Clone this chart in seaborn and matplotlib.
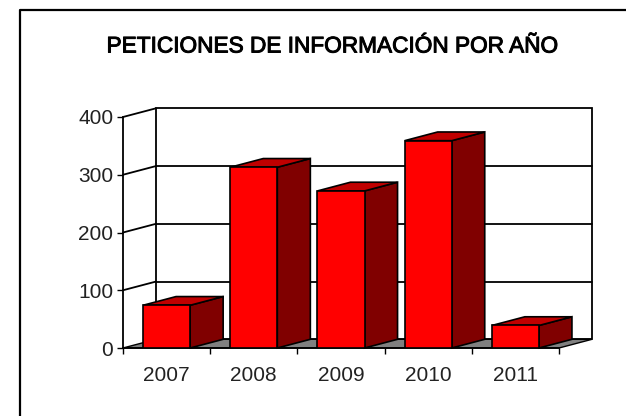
import matplotlib
matplotlib.use('Agg')
import matplotlib.pyplot as plt
import matplotlib.patheffects as pe
import seaborn as sns
import pandas as pd
from matplotlib.patches import Polygon, Rectangle

years = ['2007', '2008', '2009', '2010', '2011']
peticiones = [74, 313, 272, 359, 39]
y_ticks = [0, 100, 200, 300, 400]

W, H = 626, 416
# front plane of the fake 3d box, in pixels
left, right, bottom, top = 123, 559, 348, 117
# depth of the box in data units
dx = 33 / ((right - left) / 5)
dy = 8.7 / ((bottom - top) / 400)

sns.set_theme(style='white')
plt.rcParams['font.family'] = ['Liberation Sans', 'DejaVu Sans']

fig = plt.figure(figsize=(W / 100, H / 100), dpi=100, facecolor='white')
ax = fig.add_axes([left / W, 1 - bottom / H, (right - left) / W, (bottom - top) / H])

df = pd.DataFrame({'year': years, 'n': peticiones})
sns.barplot(data=df, x='year', y='n', color='#ff0000', saturation=1, width=0.54,
            edgecolor='black', linewidth=1.2, ax=ax, zorder=5)
ax.set_xlim(-0.5, 4.5)
ax.set_ylim(0, 400)
ax.set_xlabel('')
ax.set_ylabel('')
ax.patch.set_alpha(0)
for s in ['top', 'right']:
    ax.spines[s].set_visible(False)
for s in ['left', 'bottom']:
    ax.spines[s].set_linewidth(1.3)
    ax.spines[s].set_color('black')

# back wall, floor and gridlines
x0, x1 = -0.5, 4.5
ax.add_patch(Polygon([(x0, 0), (x1, 0), (x1 + dx, dy), (x0 + dx, dy)], closed=True,
                     fc='#808080', ec='black', lw=1.0, clip_on=False, zorder=1))
ax.add_patch(Rectangle((x0 + dx, dy), x1 - x0, 400, fc='white', ec='black', lw=1.3,
                       clip_on=False, zorder=0.5))
for t in y_ticks[1:-1]:
    ax.plot([x0 + dx, x1 + dx], [t + dy, t + dy], color='black', lw=1.3,
            clip_on=False, zorder=1)
for t in y_ticks[1:]:
    ax.plot([x0, x0 + dx], [t, t + dy], color='black', lw=1.3, clip_on=False, zorder=1)

# side and top faces of each bar
for bar in ax.patches[:len(years)]:
    a, b = bar.get_x(), bar.get_x() + bar.get_width()
    h = bar.get_height()
    ax.add_patch(Polygon([(b, 0), (b + dx, dy), (b + dx, h + dy), (b, h)], closed=True,
                         fc='#800000', ec='black', lw=1.2, clip_on=False, zorder=4))
    ax.add_patch(Polygon([(a, h), (b, h), (b + dx, h + dy), (a + dx, h + dy)], closed=True,
                         fc='#c00000', ec='black', lw=1.2, clip_on=False, zorder=4))

ax.set_yticks(y_ticks)
ax.set_xticks([i - 0.5 for i in range(6)], minor=True)
ax.tick_params(axis='x', which='major', length=0, pad=13, labelsize=15, labelcolor='#222222')
ax.tick_params(axis='x', which='minor', bottom=True, length=4, width=1, color='black')
ax.tick_params(axis='y', left=True, length=4, width=1, color='black', pad=3,
               labelsize=15, labelcolor='#222222')

title = fig.text(332 / W, 1 - 46 / H, 'PETICIONES DE INFORMACIÓN POR AÑO', ha='center', va='center',
                 fontsize=16.3, color='black')
title.set_path_effects([pe.withStroke(linewidth=0.7, foreground='black')])

# outer frame, open on the right and bottom
fig.add_artist(plt.Line2D([20 / W, 20 / W, 1], [0, 1 - 10 / H, 1 - 10 / H], color='black', lw=1.6))

fig.savefig('out.png', dpi=100)
